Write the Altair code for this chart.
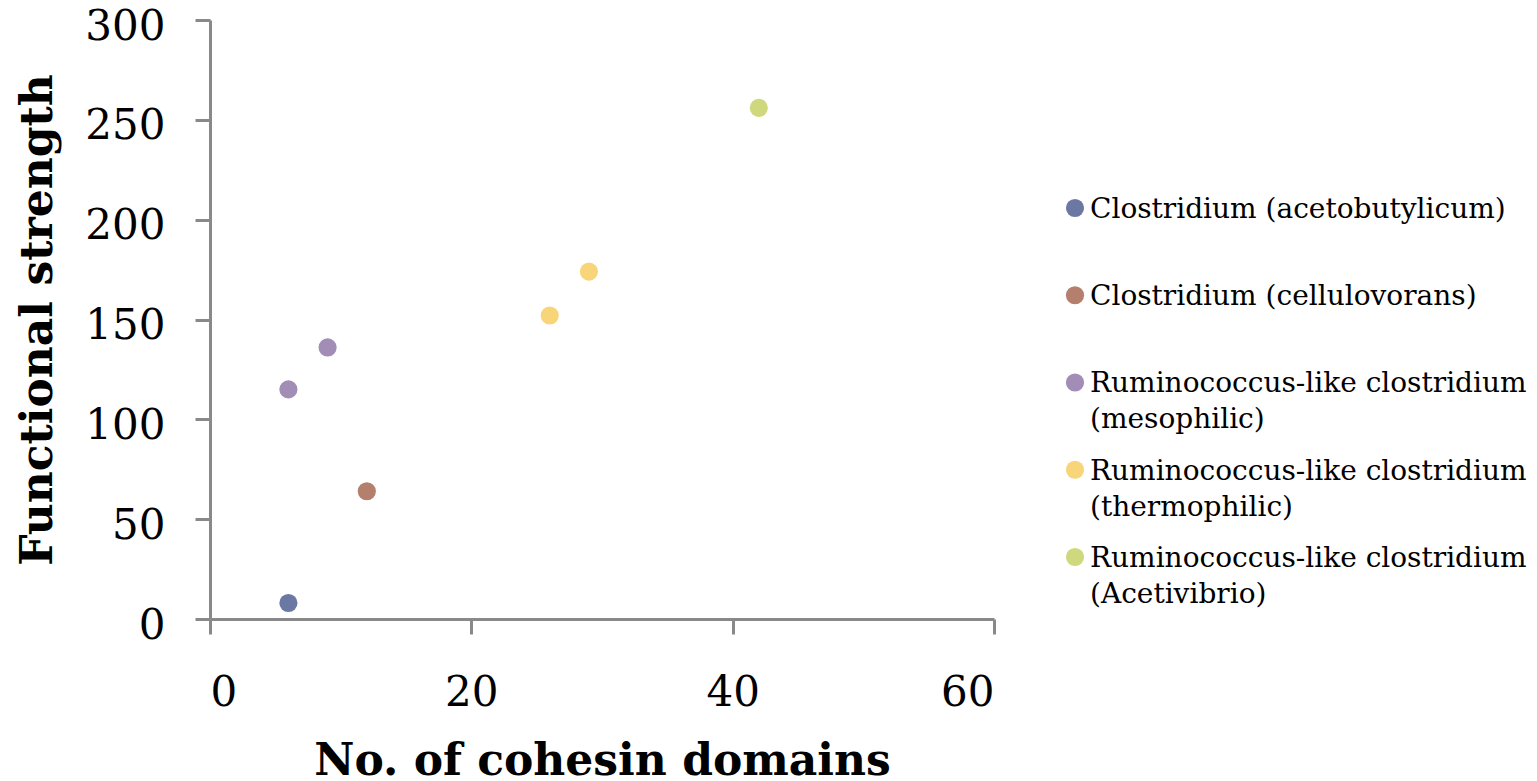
import altair as alt
import pandas as pd

species = [
    "Clostridium (acetobutylicum)",
    "Clostridium (cellulovorans)",
    "Ruminococcus-like clostridium\n(mesophilic)",
    "Ruminococcus-like clostridium\n(thermophilic)",
    "Ruminococcus-like clostridium\n(Acetivibrio)",
]
colors = ["#6B78A3", "#B47F6C", "#A18DB6", "#F9D57A", "#CFD87D"]

point_species = [species[0], species[1], species[2], species[2], species[3], species[3], species[4]]
cohesin = [6, 12, 6, 9, 26, 29, 42]
strength = [8, 64, 115, 136, 152, 174, 256]

df = pd.DataFrame({"species": point_species, "cohesin": cohesin, "strength": strength})
leg = pd.DataFrame({"species": species, "idx": list(range(len(species))), "x0": [0] * len(species)})

FONT = "DejaVu Serif"
color_scale = alt.Scale(domain=species, range=colors)

main = alt.Chart(df).mark_circle(size=330, opacity=1).encode(
    x=alt.X("cohesin:Q", title="No. of cohesin domains",
            scale=alt.Scale(domain=[0, 60], nice=False),
            axis=alt.Axis(values=[0, 20, 40, 60], labelPadding=38, titlePadding=26)),
    y=alt.Y("strength:Q", title="Functional strength",
            scale=alt.Scale(domain=[0, 300], nice=False),
            axis=alt.Axis(values=[0, 50, 100, 150, 200, 250, 300], labelPadding=30,
                          titlePadding=24, labelOffset=6)),
    color=alt.Color("species:N", scale=color_scale, legend=None),
).properties(width=784, height=599)

yscale = alt.Scale(domain=[-2.155, 4.711], reverse=True, nice=False, zero=False)
lsym = alt.Chart(leg).mark_circle(size=330, opacity=1).encode(
    x=alt.X("x0:Q", scale=alt.Scale(domain=[0, 1]), axis=None),
    y=alt.Y("idx:Q", scale=yscale, axis=None),
    color=alt.Color("species:N", scale=color_scale, legend=None),
)
ltxt = alt.Chart(leg).mark_text(align="left", baseline="alphabetic", dx=15, dy=10,
                                fontSize=28, font=FONT, lineBreak="\n", lineHeight=36,
                                color="black").encode(
    x=alt.X("x0:Q", scale=alt.Scale(domain=[0, 1]), axis=None),
    y=alt.Y("idx:Q", scale=yscale, axis=None),
    text="species:N",
)
legend = alt.layer(lsym, ltxt).properties(width=430, height=599)

chart = alt.hconcat(main, legend, spacing=69).configure_view(stroke=None).configure_axis(
    grid=False,
    domainColor="#898989", domainWidth=3,
    tickColor="#898989", tickWidth=3, tickSize=15,
    labelFont=FONT, labelFontSize=42, labelColor="black",
    titleFont=FONT, titleFontSize=44, titleFontWeight="bold", titleColor="black",
).properties(padding={"left": 8, "top": -3, "right": 0, "bottom": 0})

chart.save("out.html", embed_options={"renderer": "svg", "actions": False})
